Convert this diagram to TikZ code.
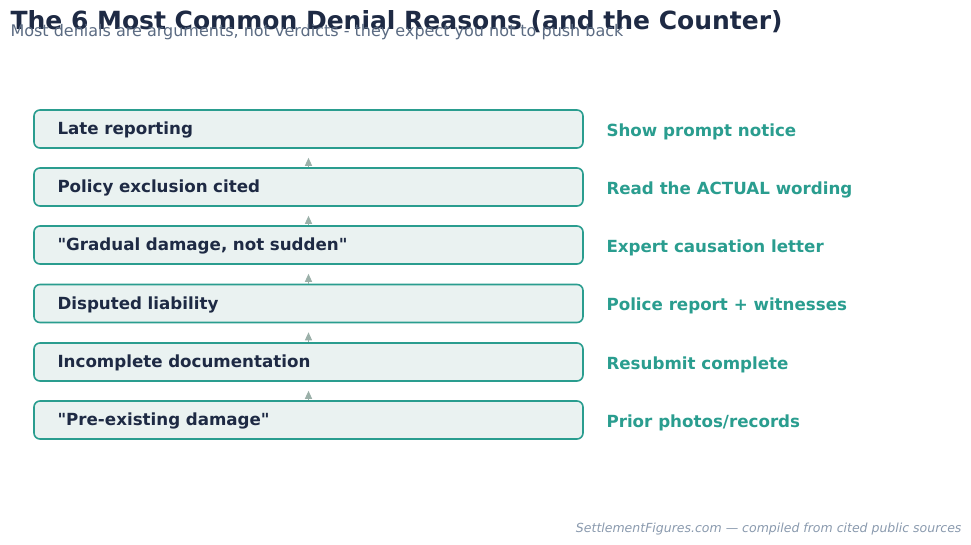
\documentclass[tikz,border=0pt]{standalone}
\usepackage{fontspec}
\setmainfont{DejaVu Sans}
\usetikzlibrary{arrows.meta}
\definecolor{navy}{HTML}{1E2A44}
\definecolor{teal}{HTML}{2A9D8F}
\definecolor{boxfill}{HTML}{EAF2F1}
\definecolor{subgray}{HTML}{5B6B82}
\definecolor{footgray}{HTML}{8A9AAE}
\definecolor{arrowgray}{HTML}{9BB0A9}
\begin{document}
\begin{tikzpicture}[x=1pt,y=-1pt,
    reason/.style={shape=rectangle,rounded corners=6pt,draw=teal,line width=1.6pt,fill=boxfill,
        minimum width=549pt,minimum height=38pt,text width=502pt,align=left,
        text height=15pt,text depth=4pt,
        font=\fontsize{16.7}{19}\selectfont\bfseries,text=navy},
    counter/.style={anchor=west,font=\fontsize{16.7}{19}\selectfont\bfseries,text=teal},
    link/.style={-{Triangle[length=8pt,width=7pt]},draw=arrowgray,fill=arrowgray,line width=1.2pt,shorten >=9pt}]
            \useasboundingbox (0,0) rectangle (971,545);
            \node[anchor=west,font=\fontsize{25}{28}\selectfont\bfseries,text=navy] (title) at (7,22) {The 6 Most Common Denial Reasons (and the Counter)};
            \node[anchor=west,font=\fontsize{16}{18}\selectfont,text=subgray] (subtitle) at (7,32.5) {Most denials are arguments, not verdicts - they expect you not to push back};

            \node[reason] (R1) at (308.5,129) {Late reporting};
            \node[reason] (R2) at (308.5,187) {Policy exclusion cited};
            \node[reason] (R3) at (308.5,245) {\textquotedbl Gradual damage, not sudden\textquotedbl};
            \node[reason] (R4) at (308.5,303.5) {Disputed liability};
            \node[reason] (R5) at (308.5,362) {Incomplete documentation};
            \node[reason] (R6) at (308.5,420) {\textquotedbl Pre-existing damage\textquotedbl};

            \node[counter] (C1) at (603,131.5) {Show prompt notice};
            \node[counter] (C2) at (603,189.5) {Read the ACTUAL wording};
            \node[counter] (C3) at (603,247.5) {Expert causation letter};
            \node[counter] (C4) at (603,306) {Police report + witnesses};
            \node[counter] (C5) at (603,364.5) {Resubmit complete};
            \node[counter] (C6) at (603,422.5) {Prior photos/records};

            \path (R2) edge[link] (R1);
            \path (R3) edge[link] (R2);
            \path (R4) edge[link] (R3);
            \path (R5) edge[link] (R4);
            \path (R6) edge[link] (R5);

            \node[anchor=east,font=\fontsize{12.5}{15}\selectfont\itshape,text=footgray] (footer) at (965,529) {SettlementFigures.com — compiled from cited public sources};
        \end{tikzpicture}
\end{document}
